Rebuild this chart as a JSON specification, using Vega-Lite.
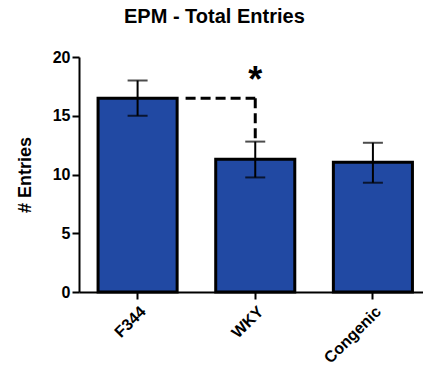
{
  "$schema": "https://vega.github.io/schema/vega-lite/v6.json",
  "autosize": "none",
  "width": 344,
  "height": 235,
  "padding": {"left": 79, "top": 57, "right": 0, "bottom": 78},
  "title": {
    "text": "EPM - Total Entries",
    "font": "Liberation Sans",
    "fontSize": 20,
    "fontWeight": "bold",
    "color": "black",
    "anchor": "start",
    "frame": "group",
    "dx": 45,
    "offset": 22
  },
  "config": {
    "view": {"stroke": null},
    "font": "Liberation Sans"
  },
  "datasets": {
    "bars": [
      {"group": "F344", "mean": 16.5, "lo": 15.0, "hi": 18.0},
      {"group": "WKY", "mean": 11.3, "lo": 9.75, "hi": 12.8},
      {"group": "Congenic", "mean": 11.05, "lo": 9.3, "hi": 12.7}
    ],
    "hline": [{"group": "F344", "to": "WKY", "y": 16.5}],
    "vline": [{"group": "WKY", "top": 16.5, "bottom": 12.95}],
    "star": [{"group": "WKY", "y": 18.5, "label": "*"}]
  },
  "layer": [
    {
      "data": {"name": "bars"},
      "mark": {"type": "bar", "fill": "#2149a3", "stroke": "black", "strokeWidth": 3},
      "encoding": {
        "x": {
          "field": "group", "type": "nominal", "sort": ["F344", "WKY", "Congenic"],
          "scale": {"range": [0, 352.5], "paddingInner": 0.328, "paddingOuter": 0.162},
          "axis": {
            "title": null, "labelAngle": -45, "labelFontSize": 16, "labelFontWeight": "bold",
            "labelColor": "black", "domainColor": "black", "domainWidth": 2,
            "tickColor": "black", "tickWidth": 2, "tickSize": 7, "labelPadding": 4
          }
        },
        "y": {
          "field": "mean", "type": "quantitative",
          "scale": {"domain": [0, 20], "nice": false},
          "axis": {
            "title": "# Entries", "titleFontSize": 18, "titleFontWeight": "bold", "titleColor": "black",
            "titlePadding": 18, "values": [0, 5, 10, 15, 20], "grid": false,
            "labelFontSize": 16, "labelFontWeight": "bold", "labelColor": "black",
            "domainColor": "black", "domainWidth": 2, "tickColor": "black", "tickWidth": 2, "tickSize": 7,
            "labelPadding": 2
          }
        }
      }
    },
    {
      "data": {"name": "bars"},
      "mark": {"type": "rule", "color": "black", "strokeWidth": 2},
      "encoding": {
        "x": {"field": "group", "type": "nominal", "sort": ["F344", "WKY", "Congenic"]},
        "y": {"field": "lo", "type": "quantitative"},
        "y2": {"field": "hi"}
      }
    },
    {
      "data": {"name": "bars"},
      "mark": {"type": "tick", "orient": "horizontal", "color": "black", "thickness": 2, "size": 20},
      "encoding": {
        "x": {"field": "group", "type": "nominal", "sort": ["F344", "WKY", "Congenic"]},
        "y": {"field": "hi", "type": "quantitative"}
      }
    },
    {
      "data": {"name": "bars"},
      "mark": {"type": "tick", "orient": "horizontal", "color": "black", "thickness": 2, "size": 20},
      "encoding": {
        "x": {"field": "group", "type": "nominal", "sort": ["F344", "WKY", "Congenic"]},
        "y": {"field": "lo", "type": "quantitative"}
      }
    },
    {
      "data": {"name": "hline"},
      "mark": {"type": "rule", "color": "black", "strokeWidth": 3, "strokeDash": [10, 5], "xOffset": 48},
      "encoding": {
        "x": {"field": "group", "type": "nominal", "sort": ["F344", "WKY", "Congenic"]},
        "x2": {"field": "to"},
        "y": {"field": "y", "type": "quantitative"}
      }
    },
    {
      "data": {"name": "vline"},
      "mark": {"type": "rule", "color": "black", "strokeWidth": 3, "strokeDash": [10, 5]},
      "encoding": {
        "x": {"field": "group", "type": "nominal", "sort": ["F344", "WKY", "Congenic"]},
        "y": {"field": "top", "type": "quantitative"},
        "y2": {"field": "bottom"}
      }
    },
    {
      "data": {"name": "star"},
      "mark": {"type": "text", "fontSize": 36, "fontWeight": "bold", "color": "black", "baseline": "middle", "dy": 6},
      "encoding": {
        "x": {"field": "group", "type": "nominal", "sort": ["F344", "WKY", "Congenic"]},
        "y": {"field": "y", "type": "quantitative"},
        "text": {"field": "label"}
      }
    }
  ]
}
